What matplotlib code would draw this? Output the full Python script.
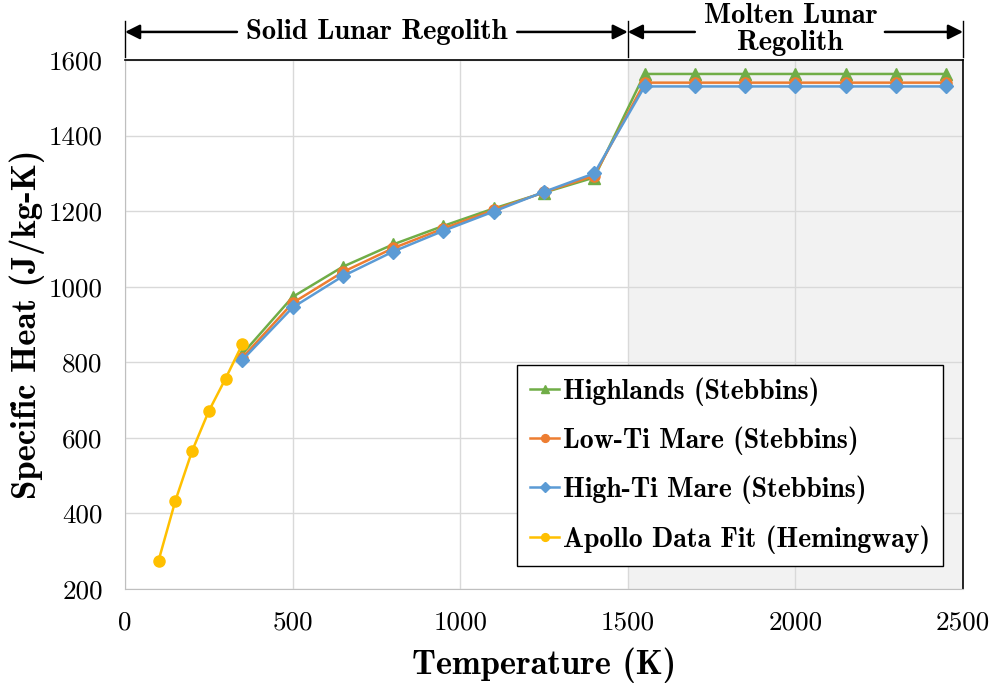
import numpy as np
import matplotlib.pyplot as plt
import matplotlib.transforms as mtransforms

# Apollo fit (Hemingway), low temperature range
apollo_T = [100, 150, 200, 250, 300, 350]
apollo_cp = [275, 433, 565, 671, 757, 848]

# Stebbins estimates
steb_T = [350, 500, 650, 800, 950, 1100, 1250, 1400,
          1550, 1700, 1850, 2000, 2150, 2300, 2450]
highlands = [822, 973, 1053, 1112, 1161, 1207, 1249, 1289,
             1563, 1563, 1563, 1563, 1563, 1563, 1563]
low_ti = [812, 957, 1039, 1102, 1154, 1203, 1250, 1294,
          1540, 1540, 1540, 1540, 1540, 1540, 1540]
high_ti = [806, 945, 1028, 1093, 1148, 1199, 1251, 1300,
           1530, 1530, 1530, 1530, 1530, 1530, 1530]

fig = plt.figure(figsize=(9.93, 6.87), dpi=100)
ax = fig.add_axes([0.1259, 0.1426, 0.8439, 0.7701])

# molten region shading
ax.axvspan(1500, 2500, color='#f2f2f2', zorder=0, lw=0)

lw = 1.8
ms = 8
ax.plot(steb_T, highlands, color='#70AD47', marker='^', lw=lw, ms=ms,
        label='Highlands (Stebbins)', zorder=3)
ax.plot(steb_T, low_ti, color='#ED7D31', marker='o', lw=lw, ms=ms,
        label='Low-Ti Mare (Stebbins)', zorder=4)
ax.plot(steb_T, high_ti, color='#5B9BD5', marker='D', lw=lw, ms=7,
        label='High-Ti Mare (Stebbins)', zorder=5)
ax.plot(apollo_T, apollo_cp, color='#FFC000', marker='o', lw=lw, ms=ms,
        label='Apollo Data Fit (Hemingway)', zorder=6)

ax.set_xlim(0, 2500)
ax.set_ylim(200, 1600)
ax.set_xticks(np.arange(0, 2501, 500))
ax.set_yticks(np.arange(200, 1601, 200))
ax.grid(True, color='#d9d9d9', lw=1)
ax.set_axisbelow(True)
ax.tick_params(length=0, pad=16, labelsize=19.5)
for lab in ax.get_xticklabels() + ax.get_yticklabels():
    lab.set_fontfamily('cmr10')

for s in ['left', 'bottom']:
    ax.spines[s].set_color('#bfbfbf')
for s in ['top', 'right']:
    ax.spines[s].set_color('black')
    ax.spines[s].set_linewidth(1.2)

ax.set_xlabel('Temperature (K)', fontfamily='cmb10', fontsize=24.8, labelpad=9)
ax.set_ylabel('Specific Heat (J/kg-K)', fontfamily='cmb10', fontsize=25, labelpad=3)

leg = ax.legend(loc='lower right', bbox_to_anchor=(0.976, 0.0435), borderaxespad=0,
                prop={'family': 'cmb10', 'size': 20}, fancybox=False,
                edgecolor='black', framealpha=1, handlelength=1.05,
                handletextpad=0.15, labelspacing=0.75, markerscale=0.7,
                borderpad=0.45)
leg.get_frame().set_linewidth(1)

# region markers above the plot
trans = mtransforms.blended_transform_factory(ax.transData, ax.transAxes)
for xv in [0, 1500, 2500]:
    ax.plot([xv, xv], [1.006, 1.074], transform=trans, color='black',
            lw=1, clip_on=False)

ya = 1.053
arrows = [(334, 0), (1170, 1500), (1700, 1500), (2267, 2500)]
for x0, x1 in arrows:
    ax.annotate('', xy=(x1, ya), xytext=(x0, ya), xycoords=trans, textcoords=trans,
                arrowprops=dict(arrowstyle='-|>', lw=1.8, color='black',
                                mutation_scale=22, shrinkA=0, shrinkB=0))

ax.text(750, ya, 'Solid Lunar Regolith', transform=trans, ha='center', va='center',
        fontfamily='cmb10', fontsize=20.5)
ax.text(1985, 1.057, 'Molten Lunar\nRegolith', transform=trans, ha='center',
        va='center', fontfamily='cmb10', fontsize=20.5, linespacing=1.05)

fig.savefig('out.png', dpi=100)
